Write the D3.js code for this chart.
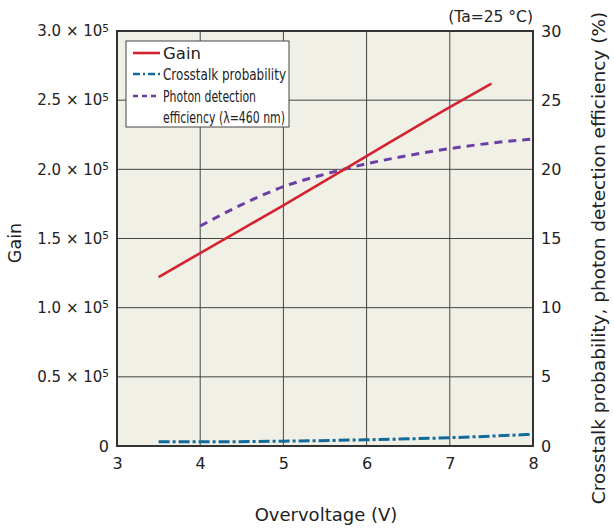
<!DOCTYPE html>
<html><head><meta charset="utf-8">
<script src="https://cdn.jsdelivr.net/npm/d3@7"></script>
<style>
body{margin:0;background:#fff;}
text{font-family:"DejaVu Sans",Verdana,sans-serif;fill:#222;}
</style></head>
<body><svg id="c" width="614" height="529"></svg>
<script>
const xTicks = [3,4,5,6,7,8];
const gainTicks = [0,50000,100000,150000,200000,250000,300000];
const gainTickLabels = ["0","0.5","1.0","1.5","2.0","2.5","3.0"];
const pctTicks = [0,5,10,15,20,25,30];

const gainV = [3.5,4,5,6,7,7.5];
const gainVal = [122000,139500,174000,209500,245000,262000];

const ctV = [3.5,4,5,6,7,8];
const ctVal = [0.3,0.3,0.35,0.45,0.6,0.85];

const pdeV = [4,4.5,5,5.5,6,6.5,7,7.5,8];
const pdeVal = [15.9,17.45,18.75,19.65,20.4,21.0,21.5,21.9,22.2];

const svg = d3.select("#c");
const L=117,R=533,T=31,B=446;
const x = d3.scaleLinear().domain([3,8]).range([L,R]);
const yG = d3.scaleLinear().domain([0,300000]).range([B,T]);
const yP = d3.scaleLinear().domain([0,30]).range([B,T]);

svg.append("rect").attr("x",L).attr("y",T).attr("width",R-L).attr("height",B-T).attr("fill","#f1f0e7");

// grid
const g = svg.append("g");
g.selectAll("line.v").data(xTicks.slice(1,-1)).join("line")
 .attr("x1",d=>x(d)).attr("x2",d=>x(d)).attr("y1",T).attr("y2",B)
 .attr("stroke","#444").attr("stroke-width",1);
g.selectAll("line.h").data(gainTicks.slice(1,-1)).join("line")
 .attr("y1",d=>yG(d)).attr("y2",d=>yG(d)).attr("x1",L).attr("x2",R)
 .attr("stroke","#444").attr("stroke-width",1);

// axes via d3
const ax = d3.axisBottom(x).tickValues(xTicks).tickSize(0).tickPadding(12).tickFormat(d3.format("d"));
const axG = svg.append("g").attr("transform",`translate(0,${B})`).call(ax);
axG.select(".domain").remove();
axG.selectAll("text").attr("font-size",16).attr("fill","#222").attr("font-family","DejaVu Sans");

const ayR = d3.axisRight(yP).tickValues(pctTicks).tickSize(0).tickPadding(8);
const ayRG = svg.append("g").attr("transform",`translate(${R},0)`).call(ayR);
ayRG.select(".domain").remove();
ayRG.selectAll("text").attr("font-size",16).attr("fill","#222").attr("font-family","DejaVu Sans");

const ayL = d3.axisLeft(yG).tickValues(gainTicks).tickSize(0).tickPadding(8).tickFormat(()=>"");
const ayLG = svg.append("g").attr("transform",`translate(${L},0)`).call(ayL);
ayLG.select(".domain").remove();
ayLG.selectAll(".tick").each(function(d,i){
  const t = d3.select(this).select("text").attr("font-size",15).attr("fill","#222").attr("font-family","DejaVu Sans Condensed");
  if(d===0){ t.text("0").attr("font-family","DejaVu Sans").attr("font-size",16); }
  else {
    t.append("tspan").text(gainTickLabels[i]+" \u00d7 10");
    t.append("tspan").text("5").attr("dy","-0.45em").attr("font-size",10.5);
  }
});

// frame
svg.append("rect").attr("x",L).attr("y",T).attr("width",R-L).attr("height",B-T)
 .attr("fill","none").attr("stroke","#333").attr("stroke-width",2);

// lines
const lineG = d3.line().x(d=>x(d[0])).y(d=>yG(d[1])).curve(d3.curveMonotoneX);
const lineP = d3.line().x(d=>x(d[0])).y(d=>yP(d[1])).curve(d3.curveMonotoneX);

svg.append("path").datum(ctV.map((v,i)=>[v,ctVal[i]])).attr("d",lineP)
 .attr("fill","none").attr("stroke","#126a9c").attr("stroke-width",3).attr("stroke-dasharray","11,3,3,3");
svg.append("path").datum(pdeV.map((v,i)=>[v,pdeVal[i]])).attr("d",lineP)
 .attr("fill","none").attr("stroke","#6b3fa3").attr("stroke-width",3).attr("stroke-dasharray","8,6");
svg.append("path").datum(gainV.map((v,i)=>[v,gainVal[i]])).attr("d",lineG)
 .attr("fill","none").attr("stroke","#d4232e").attr("stroke-width",2.6);

// legend
const lg = svg.append("g");
lg.append("rect").attr("x",126).attr("y",41).attr("width",163).attr("height",86)
 .attr("fill","#fff").attr("stroke","#444").attr("stroke-width",1);
const items = [
  {c:"#d4232e",d:null,y:53,t:["Gain"],len:[null],fs:16.5},
  {c:"#126a9c",d:"7,3,2,3",y:74,t:["Crosstalk probability"],len:[123],fs:15.5},
  {c:"#6b3fa3",d:"5,4",y:96,t:["Photon detection","efficiency (\u03bb=460 nm)"],len:[93,122],fs:15.5}
];
items.forEach(it=>{
  lg.append("line").attr("x1",133).attr("x2",160).attr("y1",it.y).attr("y2",it.y)
    .attr("stroke",it.c).attr("stroke-width",2.6).attr("stroke-dasharray",it.d);
  it.t.forEach((s,j)=>{
    const tt = lg.append("text").attr("x",163).attr("y",it.y+5.5+j*21).text(s)
      .attr("font-size",it.fs).attr("font-family","DejaVu Sans Condensed");
    if(it.len[j]) tt.attr("textLength",it.len[j]).attr("lengthAdjust","spacingAndGlyphs");
  });
});

// titles
svg.append("text").attr("x",R).attr("y",22).attr("text-anchor","end").attr("font-size",15.5).text("(Ta=25 \u00b0C)");
svg.append("text").attr("x",326).attr("y",521).attr("text-anchor","middle").attr("font-size",18).text("Overvoltage (V)");
svg.append("text").attr("transform","translate(21,243) rotate(-90)").attr("text-anchor","middle").attr("font-size",17.5).text("Gain");
svg.append("text").attr("transform","translate(605,258) rotate(-90)").attr("text-anchor","middle").attr("font-size",18.5).text("Crosstalk probability, photon detection efficiency (%)");
</script></body></html>
